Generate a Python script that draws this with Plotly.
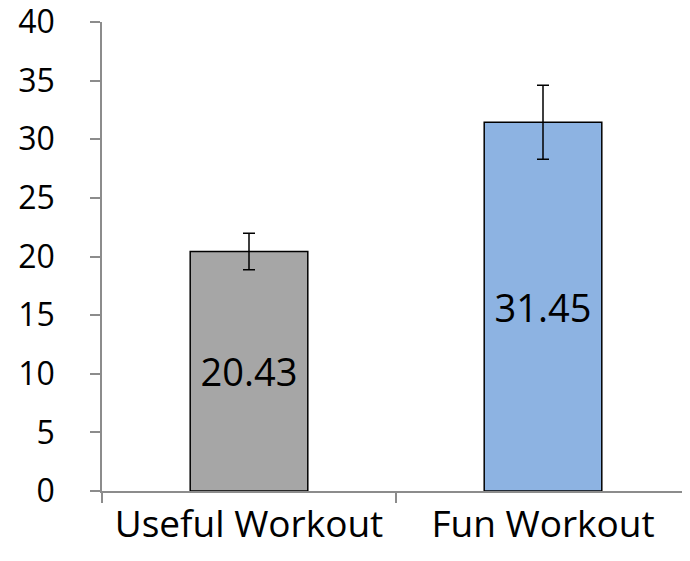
import plotly.graph_objects as go

categories = ["Useful Workout", "Fun Workout"]
values = [20.43, 31.45]
errors = [1.55, 3.15]
value_labels = ["20.43", "31.45"]
bar_colors = ["#A6A6A6", "#8DB3E2"]
y_ticks = [0, 5, 10, 15, 20, 25, 30, 35, 40]

fig = go.Figure()
fig.add_trace(go.Bar(
    x=categories,
    y=values,
    marker=dict(color=bar_colors, line=dict(color="black", width=1.5)),
    error_y=dict(type="data", array=errors, visible=True, color="black", thickness=1.5, width=6),
    text=value_labels,
    textposition="inside",
    insidetextanchor="middle",
    textangle=0,
    textfont=dict(family="Open Sans, Liberation Sans, sans-serif", size=38, color="black"),
    cliponaxis=False,
))

fig.update_layout(
    width=690, height=561,
    margin=dict(l=94, r=8, t=14, b=78),
    paper_bgcolor="white", plot_bgcolor="white",
    bargap=0.6,
    showlegend=False,
    uniformtext=dict(minsize=30, mode="show"),
    font=dict(family="Open Sans, Liberation Sans, sans-serif", size=32, color="black"),
)
fig.update_yaxes(
    range=[0, 40], tickvals=y_ticks, showgrid=False, zeroline=False,
    showline=True, linecolor="#8C8C8C", linewidth=1.5,
    ticks="outside", ticklen=10, tickcolor="#8C8C8C", tickwidth=1.5,
    ticklabelstandoff=29, automargin=False, ticklabeloverflow="allow",
    tickfont=dict(size=32),
)
fig.update_xaxes(
    showgrid=False, zeroline=False,
    showline=True, linecolor="#8C8C8C", linewidth=1.5,
    ticks="outside", ticklen=10, tickcolor="#8C8C8C", tickwidth=1.5,
    tickson="boundaries", automargin=False, ticklabeloverflow="allow",
    tickfont=dict(size=37),
    ticklabelstandoff=0,
)

fig.write_html("out.html")
